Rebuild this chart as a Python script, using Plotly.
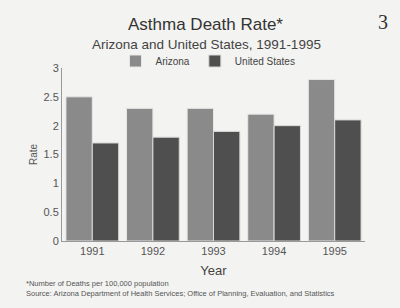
import plotly.graph_objects as go

years = ["1991", "1992", "1993", "1994", "1995"]
arizona = [2.5, 2.3, 2.3, 2.2, 2.8]
united_states = [1.7, 1.8, 1.9, 2.0, 2.1]
y_ticks = [0, 0.5, 1, 1.5, 2, 2.5, 3]
y_tick_text = ["0", "0.5", "1", "1.5", "2", "2.5", "3"]

L, R, T, B = 62, 35, 68, 67
W, H = 400, 308
PW, PH = W - L - R, H - T - B

def px_x(px):
    return (px - L) / PW

def px_y(py):
    return (H - B - py) / PH

bg = "#f3f3f1"
fig = go.Figure()
fig.add_trace(go.Bar(x=years, y=arizona, name="Arizona",
                     marker=dict(color="#8a8a8a", line=dict(color="#e6e6e6", width=1))))
fig.add_trace(go.Bar(x=years, y=united_states, name="United States",
                     marker=dict(color="#4f4f4f", line=dict(color="#d8d8d8", width=1))))

fig.update_layout(
    width=W, height=H,
    margin=dict(l=L, r=R, t=T, b=B, autoexpand=False),
    paper_bgcolor=bg, plot_bgcolor=bg,
    font=dict(family="Liberation Sans, Arial, sans-serif", color="#333"),
    barmode="group", bargap=0.13, bargroupgap=0.0,
    showlegend=True,
    legend=dict(orientation="h", x=px_x(208), xanchor="center", y=px_y(61), yanchor="middle",
                font=dict(size=10, color="#444"), bgcolor="rgba(0,0,0,0)",
                itemwidth=30, tracegroupgap=0),
    xaxis=dict(showline=True, linecolor="#999", linewidth=1, ticks="", showgrid=False,
               tickfont=dict(size=11, color="#555"),
               title=dict(text="Year", font=dict(size=13, color="#444"), standoff=9)),
    yaxis=dict(range=[0, 3], tickvals=y_ticks, ticktext=y_tick_text, showline=True,
               linecolor="#999", linewidth=1, ticks="", showgrid=False, zeroline=False,
               tickfont=dict(size=11, color="#555"),
               title=dict(text="Rate", font=dict(size=10, color="#555"), standoff=4)),
)

def add_text(text, px, py, size, color, xanchor="center", family=None):
    f = dict(size=size, color=color)
    if family:
        f["family"] = family
    fig.add_annotation(text=text, x=px_x(px), y=px_y(py), xref="paper", yref="paper",
                       showarrow=False, font=f, xanchor=xanchor, yanchor="middle")

add_text("Asthma Death Rate*", 205, 25, 17, "#333")
add_text("Arizona and United States, 1991-1995", 206, 44, 13.5, "#444")
add_text("3", 383, 22, 20, "#333", family="Liberation Serif, serif")
add_text("*Number of Deaths per 100,000 population", 24, 283, 7.5, "#555", xanchor="left")
add_text("Source: Arizona Department of Health Services; Office of Planning, Evaluation, and Statistics",
         24, 293, 7.5, "#555", xanchor="left")

fig.write_html("out.html")
